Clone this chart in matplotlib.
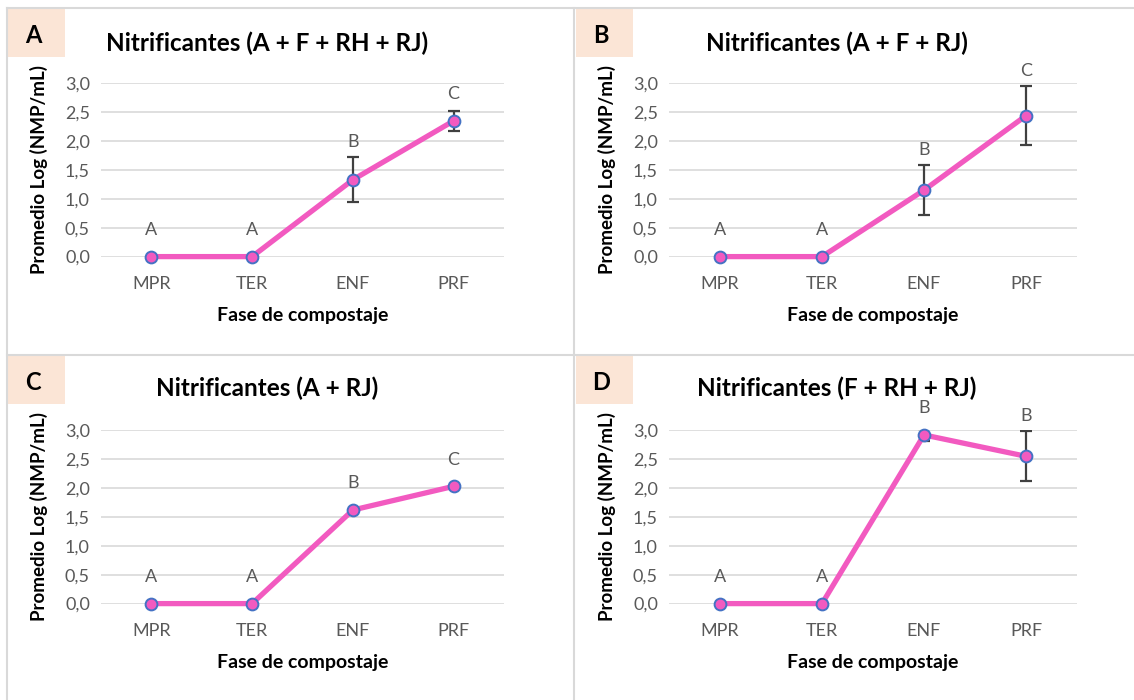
import matplotlib.pyplot as plt
import matplotlib.patches as mpatches
from matplotlib.lines import Line2D
import numpy as np

plt.rcParams['font.family'] = ['Lato', 'DejaVu Sans']

# data
fases = ["MPR", "TER", "ENF", "PRF"]
paneles = ["A", "B", "C", "D"]
titulos = ["Nitrificantes (A + F + RH + RJ)", "Nitrificantes (A + F + RJ)",
           "Nitrificantes (A + RJ)", "Nitrificantes (F + RH + RJ)"]
medias_A = [0.0, 0.0, 1.33, 2.35]
error_A = [0.0, 0.0, 0.39, 0.17]
letras_A = ["A", "A", "B", "C"]
medias_B = [0.0, 0.0, 1.15, 2.44]
error_B = [0.0, 0.0, 0.43, 0.51]
letras_B = ["A", "A", "B", "C"]
medias_C = [0.0, 0.0, 1.62, 2.03]
error_C = [0.0, 0.0, 0.0, 0.0]
letras_C = ["A", "A", "B", "C"]
medias_D = [0.0, 0.0, 2.92, 2.55]
error_D = [0.0, 0.0, 0.10, 0.43]
letras_D = ["A", "A", "B", "B"]

medias = [medias_A, medias_B, medias_C, medias_D]
errores = [error_A, error_B, error_C, error_D]
letras = [letras_A, letras_B, letras_C, letras_D]

W, H = 1134, 700
fig = plt.figure(figsize=(W / 100, H / 100), dpi=100)

def fx(px):
    return px / W

def fy(py):
    return 1 - py / H

# panel borders
border = '#D9D9D9'
for x0, y0, x1, y1 in [(7, 8, W, 8), (7, 8, 7, H), (574, 8, 574, H), (7, 354.5, W, 354.5)]:
    fig.add_artist(Line2D([fx(x0), fx(x1)], [fy(y0), fy(y1)], color=border, lw=1.5))

# (plot left px, plot top px, box x px, box y px, title x px, title y px)
layout = [(101, 83.3, 8, 8.5, 267, 43), (669, 83.3, 576, 8.5, 837, 43),
          (101, 430.3, 8, 356, 267, 388), (669, 430.3, 576, 356, 837, 388)]
ancho = [403, 408, 403, 408]
alto = 173.3

gris = '#595959'
rosa = '#F25AC0'
azul = '#4472C4'

for i in range(4):
    left, top, bx, by, tx, ty = layout[i]
    # letter box
    fig.add_artist(mpatches.Rectangle((fx(bx), fy(by + 48)), fx(57), 48 / H,
                                      facecolor='#FBE5D6', edgecolor='none'))
    fig.text(fx(bx + 25), fy(by + 27), paneles[i], ha='center', va='center',
             fontsize=17, fontweight='bold', color='black')
    fig.text(fx(tx), fy(ty), titulos[i], ha='center', va='center',
             fontsize=17.5, fontweight='bold', color='black')

    ax = fig.add_axes([fx(left), fy(top + alto), fx(ancho[i]), alto / H])
    x = np.arange(len(fases))
    m = np.array(medias[i])
    e = np.array(errores[i])
    ax.plot(x, m, color=rosa, lw=3.8, zorder=3, clip_on=False)
    mask = e > 0
    if mask.any():
        ax.errorbar(x[mask], m[mask], yerr=e[mask], fmt='none', ecolor='#404040',
                    elinewidth=1.6, capsize=4.5, capthick=1.6, zorder=2)
    ax.plot(x, m, 'o', ms=8.5, mfc=rosa, mec=azul, mew=1.4, zorder=4, clip_on=False)
    for xi, mi, ei, lt in zip(x, m, e, letras[i]):
        yl = max(mi + 0.46, mi + ei + 0.27)
        ax.text(xi, yl, lt, ha='center', va='center', fontsize=13, color=gris)

    ax.set_xlim(-0.5, 3.5)
    ax.set_ylim(0, 3)
    ax.set_yticks(np.arange(0, 3.01, 0.5))
    ax.set_yticklabels([f"{v:.1f}".replace('.', ',') for v in np.arange(0, 3.01, 0.5)])
    ax.set_xticks(x)
    ax.set_xticklabels(fases)
    ax.tick_params(length=0, labelsize=13, labelcolor=gris, pad=8)
    ax.tick_params(axis='x', pad=14)
    ax.grid(axis='y', color='#D9D9D9', lw=1.2)
    ax.set_axisbelow(True)
    for s in ax.spines.values():
        s.set_visible(False)
    ax.set_xlabel("Fase de compostaje", fontsize=14, fontweight='bold', labelpad=11)
    ax.set_ylabel("Promedio Log (NMP/mL)", fontsize=13.5, fontweight='bold', labelpad=12)

fig.savefig("out.png", dpi=100)
